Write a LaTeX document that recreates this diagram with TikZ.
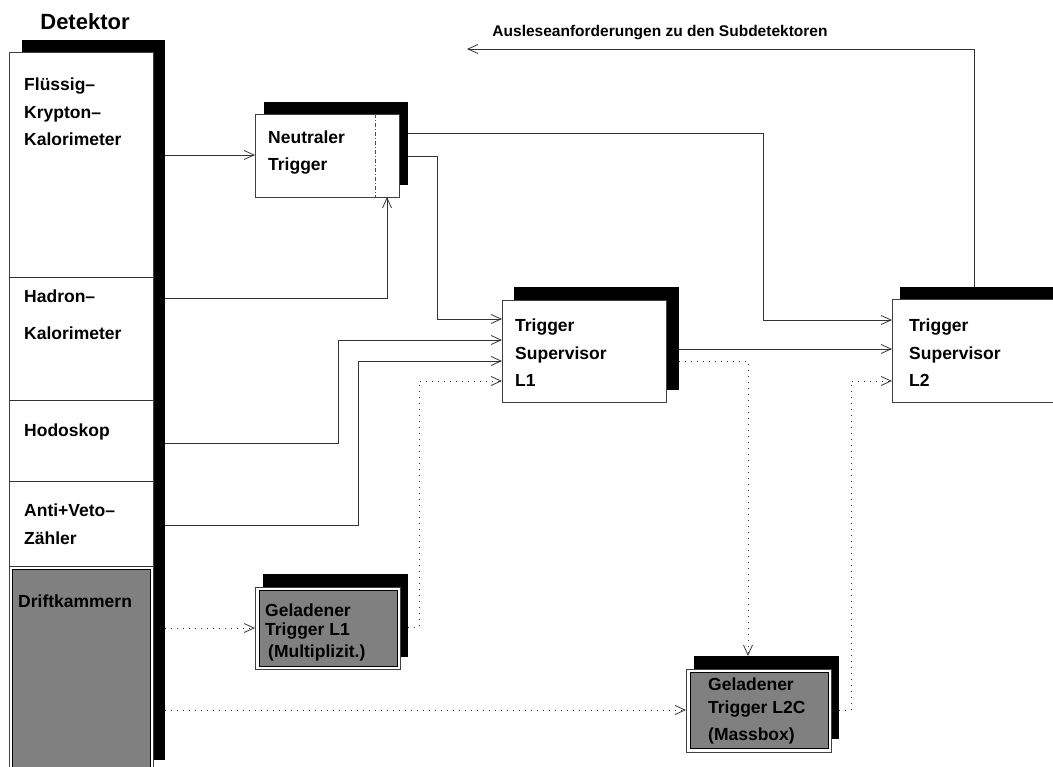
\documentclass[tikz,border=0pt]{standalone}
\usepackage{fontspec}
\setmainfont{Liberation Sans}
\usetikzlibrary{arrows.meta}
\tikzset{
  shd/.style={fill=black, draw=none, inner sep=0, outer sep=0, anchor=north west},
  wbox/.style={fill=white, draw=black!75, line width=0.9pt, inner sep=0, outer sep=0, anchor=north west},
  gbox/.style={fill=black!50, draw=black, line width=0.9pt, inner sep=0, outer sep=0, anchor=north west},
  lbl/.style={anchor=base west, inner sep=0, font=\bfseries\fontsize{17.5}{20}\selectfont},
  conn/.style={line width=0.8pt, draw=black!80, -{Straight Barb[length=10pt,width=9pt]}},
  dconn/.style={conn, dash pattern=on 1pt off 5pt},
  plain/.style={line width=0.8pt, draw=black!80},
}
\begin{document}
\begin{tikzpicture}[x=1pt,y=-1pt]
\useasboundingbox (0,0) rectangle (1053,767);
\clip (0,0) rectangle (1053,767);

% Detektor
\node[anchor=base, inner sep=0, font=\bfseries\fontsize{22}{24}\selectfont] (dettitle) at (85,30) {Detektor};
\node[shd, minimum width=143pt, minimum height=720pt] (detsh) at (22,40) {};
\node[wbox, minimum width=144pt, minimum height=720pt] (det) at (9,52) {};
\draw[plain] (9,277) -- (153,277);
\draw[plain] (9,400) -- (153,400);
\draw[plain] (9,481) -- (153,481);
\draw[plain] (9,566) -- (153,566);
\node[gbox, minimum width=138pt, minimum height=210pt] (drift) at (12,569) {};
\node[lbl] (t1) at (24,91) {Flüssig–};
\node[lbl] (t2) at (24,119) {Krypton–};
\node[lbl] (t3) at (24,146) {Kalorimeter};
\node[lbl] (t4) at (24,303) {Hadron–};
\node[lbl] (t5) at (24,340) {Kalorimeter};
\node[lbl] (t6) at (24,436) {Hodoskop};
\node[lbl] (t7) at (24,516) {Anti+Veto–};
\node[lbl] (t8) at (24,544) {Zähler};
\node[lbl] (t9) at (18,607) {Driftkammern};

% Neutraler Trigger
\node[shd, minimum width=144pt, minimum height=83pt] (ntsh) at (264,102) {};
\node[wbox, minimum width=144pt, minimum height=83pt] (nt) at (255,114) {};
\draw[line width=0.7pt, black!70, dash pattern=on 4pt off 2pt on 1pt off 2pt] (375,114) -- (375,197);
\node[lbl] at (268,144) {Neutraler};
\node[lbl] at (268,171) {Trigger};

% Trigger Supervisor L1
\node[shd, minimum width=165pt, minimum height=103pt] (ts1sh) at (514,287) {};
\node[wbox, minimum width=164pt, minimum height=102pt] (ts1) at (502,300) {};
\node[lbl] at (515,332) {Trigger};
\node[lbl] at (515,360) {Supervisor};
\node[lbl] at (515,387) {L1};

% Trigger Supervisor L2
\node[shd, minimum width=200pt, minimum height=20pt] (ts2sh) at (900,287) {};
\node[wbox, minimum width=200pt, minimum height=103pt] (ts2) at (892,299) {};
\node[lbl] at (909,332) {Trigger};
\node[lbl] at (909,360) {Supervisor};
\node[lbl] at (909,387) {L2};

% Geladener Trigger L1
\node[shd, minimum width=145pt, minimum height=83pt] (gl1sh) at (263,574) {};
\node[wbox, minimum width=145pt, minimum height=82pt] (gl1) at (255,587) {};
\node[gbox, minimum width=138pt, minimum height=76pt] (gl1in) at (259,590) {};
\node[lbl] at (265,616) {Geladener};
\node[lbl] at (265,635) {Trigger L1};
\node[lbl] at (268,657) {(Multiplizit.)};

% Geladener Trigger L2C
\node[shd, minimum width=145pt, minimum height=83pt] (gl2sh) at (694,656) {};
\node[wbox, minimum width=145pt, minimum height=83pt] (gl2) at (686,669) {};
\node[gbox, minimum width=138pt, minimum height=76pt] (gl2in) at (690,672) {};
\node[lbl] at (708,690) {Geladener};
\node[lbl] at (708,713) {Trigger L2C};
\node[lbl] at (708,740) {(Massbox)};

% Readout request label
\node[anchor=base, inner sep=0, font=\bfseries\fontsize{15.5}{18}\selectfont] (rlbl) at (660,37) {Ausleseanforderungen zu den Subdetektoren};
\coordinate (rend) at (467,49);

% Connectors
\draw[conn] (detsh.east |- 0,155) -- (nt.west |- 0,155);
\draw[conn] (detsh.east |- 0,298) -| (nt.south -| 387,0);
\draw[conn] (ntsh.east |- 0,133) -- (763,133) -- (763,320) -- (ts2.west |- 0,320);
\draw[conn] (ntsh.east |- 0,156) -- (437,156) -- (437,319) -- (ts1.west |- 0,319);
\draw[conn] (detsh.east |- 0,443) -- (338,443) -- (338,340) -- (ts1.west |- 0,340);
\draw[conn] (detsh.east |- 0,525) -- (358,525) -- (358,361) -- (ts1.west |- 0,361);
\draw[conn] (ts1sh.east |- 0,349) -- (ts2.west |- 0,349);
\draw[conn] (ts2sh.north -| 974,0) -- (974,49) -- (rend);

\draw[dconn] (detsh.east |- 0,628) -- (gl1.west |- 0,628);
\draw[dconn] (detsh.east |- 0,710) -- (gl2.west |- 0,710);
\draw[dconn] (gl1sh.east |- 0,627) -- (419,627) -- (419,381) -- (ts1.west |- 0,381);
\draw[dconn] (ts1sh.east |- 0,361) -- (748,361) -- (gl2sh.north -| 748,0);
\draw[dconn] (gl2sh.east |- 0,710) -- (851,710) -- (851,381) -- (ts2.west |- 0,381);
\end{tikzpicture}
\end{document}
